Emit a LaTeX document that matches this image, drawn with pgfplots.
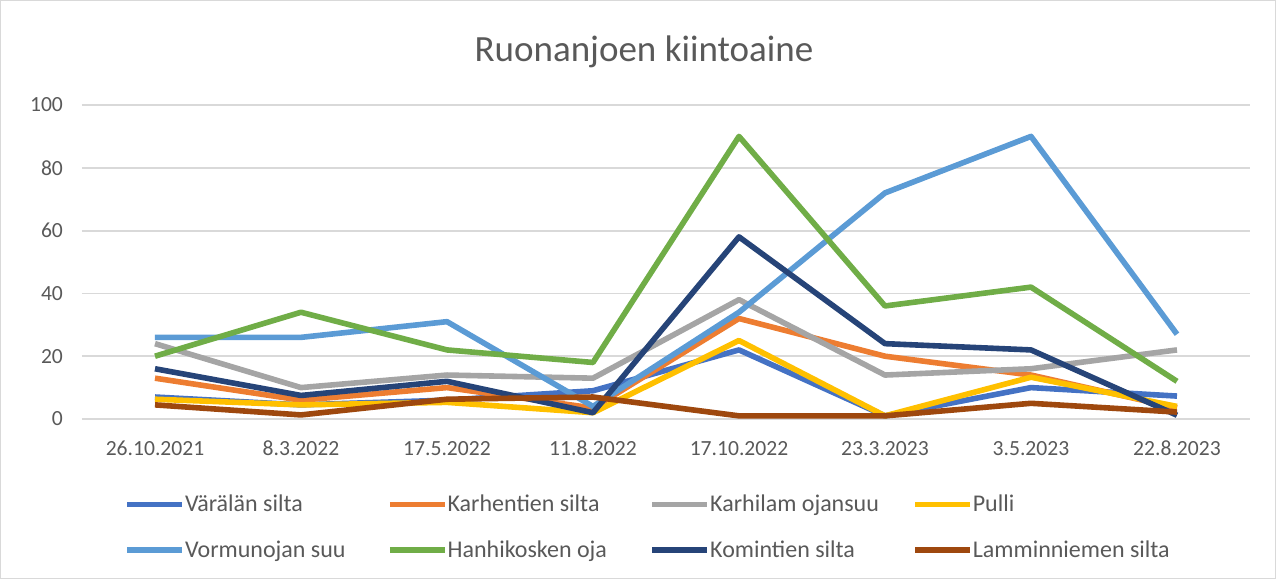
\documentclass[border=0pt]{standalone}
\usepackage{pgfplots}
\pgfplotsset{compat=1.18}
\usepackage{fontspec}
\setmainfont{Carlito}
\definecolor{cA}{HTML}{4472C4}
\definecolor{cB}{HTML}{ED7D31}
\definecolor{cC}{HTML}{A5A5A5}
\definecolor{cD}{HTML}{FFC000}
\definecolor{cE}{HTML}{5B9BD5}
\definecolor{cF}{HTML}{70AD47}
\definecolor{cG}{HTML}{264478}
\definecolor{cH}{HTML}{9E480E}
\definecolor{tc}{HTML}{595959}
\definecolor{gc}{HTML}{D9D9D9}
\newcommand{\lt}[1]{\makebox[101pt][l]{#1}}
\begin{document}
\begin{tikzpicture}
\begin{axis}[
  at={(0pt,0pt)}, anchor=south west,
  scale only axis, width=584pt, height=157pt,
  xmin=-0.5, xmax=7.5, ymin=0, ymax=100,
  ytick={0,20,...,100}, xtick={0,...,7},
  xticklabels={26.10.2021,8.3.2022,17.5.2022,11.8.2022,17.10.2022,23.3.2023,3.5.2023,22.8.2023},
  axis line style={draw=none}, major tick style={draw=none},
  ymajorgrids, grid style={gc, line width=0.9pt},
  /pgf/number format/assume math mode=true,
  tick label style={text=tc, font=\fontsize{10.8}{12}\selectfont},
  yticklabel style={xshift=-6pt},
  xticklabel style={yshift=-7.5pt},
  every axis plot/.append style={line width=2.8pt, line join=round, mark=none},
  legend image code/.code={\draw[#1] (0pt,0pt) -- (27.5pt,0pt);},
  legend columns=4,
  legend style={at={(rel axis cs:0.036,-0.24)}, anchor=north west, draw=none, fill=none,
    inner sep=0pt, row sep=13pt, column sep=0pt,
    nodes={inner sep=0pt, text=tc, font=\fontsize{12}{14}\selectfont}},
  clip=false,
]
\addplot[cA] coordinates {(0,7) (1,4.5) (2,6) (3,9) (4,22) (5,1) (6,10) (7,7.3)};
\addlegendentry{\lt{Värälän silta}}
\addplot[cB] coordinates {(0,13) (1,6) (2,10) (3,3.5) (4,32) (5,20) (6,14) (7,3.5)};
\addlegendentry{\lt{Karhentien silta}}
\addplot[cC] coordinates {(0,24) (1,10) (2,14) (3,13) (4,38) (5,14) (6,16) (7,22)};
\addlegendentry{\lt{Karhilam ojansuu}}
\addplot[cD] coordinates {(0,6.3) (1,4.5) (2,5.3) (3,2) (4,25) (5,1) (6,13.3) (7,4)};
\addlegendentry{\lt{Pulli}}
\addplot[cE] coordinates {(0,26) (1,26) (2,31) (3,4) (4,34) (5,72) (6,90) (7,27)};
\addlegendentry{\lt{Vormunojan suu}}
\addplot[cF] coordinates {(0,20) (1,34) (2,22) (3,18) (4,90) (5,36) (6,42) (7,12)};
\addlegendentry{\lt{Hanhikosken oja}}
\addplot[cG] coordinates {(0,16) (1,7.5) (2,12) (3,2) (4,58) (5,24) (6,22) (7,1.2)};
\addlegendentry{\lt{Komintien silta}}
\addplot[cH] coordinates {(0,4.5) (1,1.3) (2,6.3) (3,7) (4,1) (5,1) (6,5) (7,2.2)};
\addlegendentry{\lt{Lamminniemen silta}}
\end{axis}
\node[text=tc, font=\fontsize{18.5}{22}\selectfont] at (281pt,183.5pt) {Ruonanjoen kiintoaine};
\draw[gc, line width=0.6pt] (-40.7pt,-79.7pt) rectangle (596.7pt,209.2pt);
\pgfresetboundingbox
\useasboundingbox (-41pt,-80pt) rectangle (597pt,209.5pt);
\end{tikzpicture}
\end{document}
